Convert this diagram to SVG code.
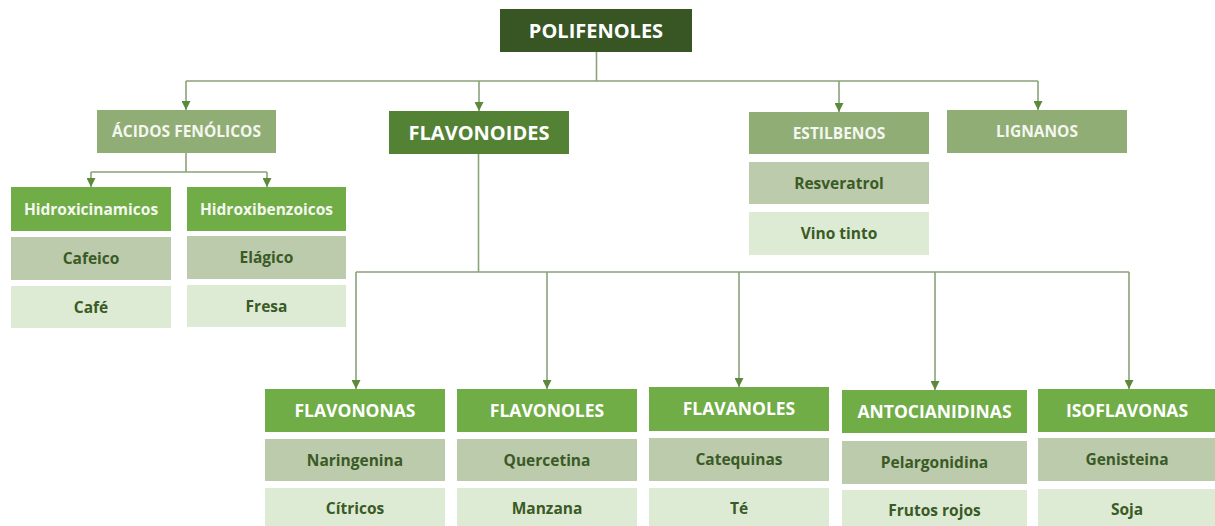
<svg xmlns="http://www.w3.org/2000/svg" width="1215" height="526" viewBox="0 0 1215 526">
<style>
text{font-family:"Open Sans","Noto Sans","Liberation Sans",sans-serif;font-weight:700;text-anchor:middle}
.t1{font-size:20px;fill:#ffffff}
.t2{font-size:15.5px;fill:#f4f7f0}
.t3{font-size:17.5px;fill:#ffffff}
.tl{font-size:15.5px;fill:#3a5a26}
.root{fill:#375623}
.flav{fill:#548235}
.muted{fill:#91ad76}
.bright{fill:#70ad47}
.r2{fill:#bccbac}
.r3{fill:#ddebd4}
.con{fill:none;stroke:#8aa37a;stroke-width:1.6}
</style>
<defs>
<marker id="arr" viewBox="0 0 10 10" refX="10" refY="5" markerWidth="9" markerHeight="9" markerUnits="userSpaceOnUse" orient="auto">
<path d="M0,0 L10,5 L0,10 z" fill="#5b8a3a"/>
</marker>
</defs>
<rect width="1215" height="526" fill="#ffffff"/>
<g id="connectors">
<path class="con" d="M596.5,52 V81 M186,81 H1038"/>
<path class="con" d="M186,81 V110" marker-end="url(#arr)"/>
<path class="con" d="M479,81 V111" marker-end="url(#arr)"/>
<path class="con" d="M839,81 V112" marker-end="url(#arr)"/>
<path class="con" d="M1038,81 V110" marker-end="url(#arr)"/>
<path class="con" d="M186,153 V172 M91,172 H267"/>
<path class="con" d="M91,172 V187" marker-end="url(#arr)"/>
<path class="con" d="M267,172 V187" marker-end="url(#arr)"/>
<path class="con" d="M478.5,154 V272 M356,272 H1129"/>
<path class="con" d="M356,272 V389" marker-end="url(#arr)"/>
<path class="con" d="M547,272 V389" marker-end="url(#arr)"/>
<path class="con" d="M739,272 V387" marker-end="url(#arr)"/>
<path class="con" d="M935,272 V390" marker-end="url(#arr)"/>
<path class="con" d="M1129,272 V389" marker-end="url(#arr)"/>
</g>
<g id="polifenoles"><rect class="root" x="500" y="9" width="192" height="43"/><text class="t1" x="596" y="38">POLIFENOLES</text></g>
<g id="acidos"><rect class="muted" x="97" y="110" width="179" height="43"/><text class="t2" x="186.5" y="137">ÁCIDOS FENÓLICOS</text></g>
<g id="flavonoides"><rect class="flav" x="389" y="111" width="180" height="43"/><text class="t1" x="479" y="139.5">FLAVONOIDES</text></g>
<g id="estilbenos"><rect class="muted" x="749" y="112" width="180" height="42"/><text class="t2" x="839" y="138.5">ESTILBENOS</text></g>
<g id="lignanos"><rect class="muted" x="947" y="110" width="180" height="43"/><text class="t2" x="1037" y="137">LIGNANOS</text></g>
<g id="resveratrol"><rect class="r2" x="749" y="162" width="180" height="42"/><text class="tl" x="839" y="188.5">Resveratrol</text></g>
<g id="vino"><rect class="r3" x="749" y="212" width="180" height="43"/><text class="tl" x="839" y="239">Vino tinto</text></g>
<g id="hidroxicinamicos"><rect class="bright" x="11" y="187" width="160" height="44"/><text class="t2" x="91" y="214.5">Hidroxicinamicos</text></g>
<g id="hidroxibenzoicos"><rect class="bright" x="187" y="187" width="159" height="44"/><text class="t2" x="266.5" y="214.5">Hidroxibenzoicos</text></g>
<g id="cafeico"><rect class="r2" x="11" y="237" width="160" height="43"/><text class="tl" x="91" y="264">Cafeico</text></g>
<g id="elagico"><rect class="r2" x="187" y="236" width="159" height="43"/><text class="tl" x="266.5" y="263">Elágico</text></g>
<g id="cafe"><rect class="r3" x="11" y="286" width="160" height="42"/><text class="tl" x="91" y="312.5">Café</text></g>
<g id="fresa"><rect class="r3" x="187" y="285" width="159" height="42"/><text class="tl" x="266.5" y="311.5">Fresa</text></g>
<g id="flavononas"><rect class="bright" x="265" y="389" width="180" height="43"/><text class="t3" x="355" y="416.5">FLAVONONAS</text></g>
<g id="naringenina"><rect class="r2" x="265" y="439" width="180" height="42"/><text class="tl" x="355" y="465.5">Naringenina</text></g>
<g id="citricos"><rect class="r3" x="265" y="488" width="180" height="42"/><text class="tl" x="355" y="514">Cítricos</text></g>
<g id="flavonoles"><rect class="bright" x="457" y="389" width="180" height="43"/><text class="t3" x="547" y="416.5">FLAVONOLES</text></g>
<g id="quercetina"><rect class="r2" x="457" y="439" width="180" height="42"/><text class="tl" x="547" y="465.5">Quercetina</text></g>
<g id="manzana"><rect class="r3" x="457" y="488" width="180" height="42"/><text class="tl" x="547" y="514">Manzana</text></g>
<g id="flavanoles"><rect class="bright" x="649" y="387" width="180" height="44"/><text class="t3" x="739" y="415">FLAVANOLES</text></g>
<g id="catequinas"><rect class="r2" x="649" y="438" width="180" height="43"/><text class="tl" x="739" y="465">Catequinas</text></g>
<g id="te"><rect class="r3" x="649" y="488" width="180" height="42"/><text class="tl" x="739" y="514">Té</text></g>
<g id="antocianidinas"><rect class="bright" x="842" y="390" width="185" height="43"/><text class="t3" x="934.5" y="417.5">ANTOCIANIDINAS</text></g>
<g id="pelargonidina"><rect class="r2" x="842" y="441" width="185" height="43"/><text class="tl" x="934.5" y="468">Pelargonidina</text></g>
<g id="frutos"><rect class="r3" x="842" y="490" width="185" height="40"/><text class="tl" x="934.5" y="516">Frutos rojos</text></g>
<g id="isoflavonas"><rect class="bright" x="1038" y="389" width="180" height="43"/><text class="t3" x="1127" y="416.5">ISOFLAVONAS</text></g>
<g id="genisteina"><rect class="r2" x="1038" y="438" width="180" height="43"/><text class="tl" x="1127" y="465">Genisteina</text></g>
<g id="soja"><rect class="r3" x="1038" y="489" width="180" height="41"/><text class="tl" x="1127" y="515">Soja</text></g>
</svg>
